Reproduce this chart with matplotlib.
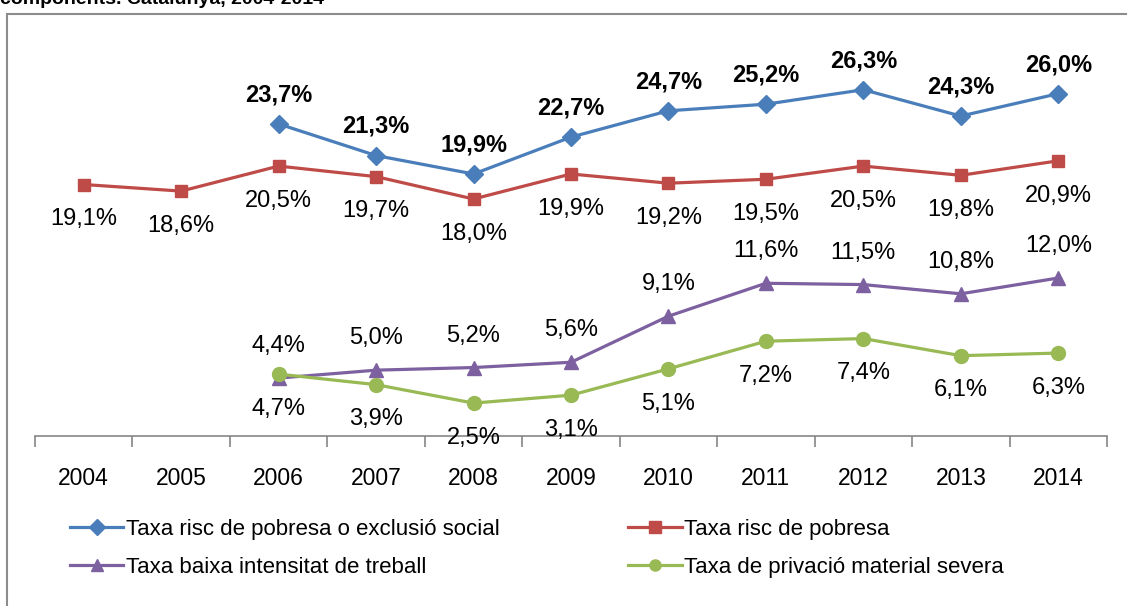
import numpy as np
import matplotlib.pyplot as plt
from matplotlib.patches import Rectangle

plt.rcParams['font.family'] = ['Liberation Sans', 'DejaVu Sans']

years = ['2004', '2005', '2006', '2007', '2008', '2009', '2010', '2011', '2012', '2013', '2014']
arope = [np.nan, np.nan, 23.7, 21.3, 19.9, 22.7, 24.7, 25.2, 26.3, 24.3, 26.0]
pobresa = [19.1, 18.6, 20.5, 19.7, 18.0, 19.9, 19.2, 19.5, 20.5, 19.8, 20.9]
intensitat = [np.nan, np.nan, 4.4, 5.0, 5.2, 5.6, 9.1, 11.6, 11.5, 10.8, 12.0]
privacio = [np.nan, np.nan, 4.7, 3.9, 2.5, 3.1, 5.1, 7.2, 7.4, 6.1, 6.3]

names = ['Taxa risc de pobresa o exclusió social', 'Taxa risc de pobresa',
         'Taxa baixa intensitat de treball', 'Taxa de privació material severa']
colors = ['#4A7EBB', '#BE4B48', '#7D60A0', '#98B954']

W, H = 1127, 606
fig = plt.figure(figsize=(W / 100, H / 100), dpi=100)
ax = fig.add_axes([35 / W, 170 / H, 1072 / W, 395 / H])

x = np.arange(len(years))
series = [
    (arope, 'D', 9, 21, True),
    (pobresa, 's', 9, -25, False),
    (intensitat, '^', 10, 23, False),
    (privacio, 'o', 10, -25, False),
]
handles = []
for (vals, mk, ms, off, bold), name, c in zip(series, names, colors):
    h, = ax.plot(x, vals, color=c, lw=2.3, marker=mk, ms=ms, label=name,
                 solid_joinstyle='round')
    handles.append(h)
    for xi, v in zip(x, vals):
        if np.isnan(v):
            continue
        ax.annotate(f'{v:.1f}%'.replace('.', ','), (xi, v), xytext=(0, off),
                    textcoords='offset points', ha='center', va='center',
                    fontsize=17, fontweight='bold' if bold else 'normal')

ax.set_xlim(-0.5, len(years) - 0.5)
ax.set_ylim(0, 30)
ax.set_yticks([])
for s in ['left', 'right', 'top']:
    ax.spines[s].set_visible(False)
ax.spines['bottom'].set_color('#868686')
ax.spines['bottom'].set_linewidth(1.2)
ax.set_xticks(x)
ax.set_xticklabels(years, fontsize=16.5)
ax.set_xticks(np.arange(-0.5, len(years)), minor=True)
ax.tick_params(axis='x', which='major', length=0, pad=22)
ax.tick_params(axis='x', which='minor', length=8, color='#868686', width=1.2)
ax.patch.set_visible(False)

leg = fig.legend([handles[0], handles[2], handles[1], handles[3]],
                 [names[0], names[2], names[1], names[3]],
                 ncol=2, loc='upper left', bbox_to_anchor=(50 / W, 1 - 499 / H),
                 frameon=False, fontsize=16, handlelength=2.4, handletextpad=0.1,
                 columnspacing=5.8, labelspacing=0.75)
for lh in leg.legend_handles:
    lh.set_markersize(8)

fig.patches.append(Rectangle((7 / W, -0.05), 1.1, 1.05 - 14 / H + 0.0,
                             transform=fig.transFigure, fill=False,
                             edgecolor='#8C8C8C', lw=1.5))
fig.text(0.0, 1 - 4 / H, 'components. Catalunya, 2004-2014', fontsize=14,
         fontweight='bold', ha='left', va='baseline')

fig.savefig('out.png', dpi=100)
